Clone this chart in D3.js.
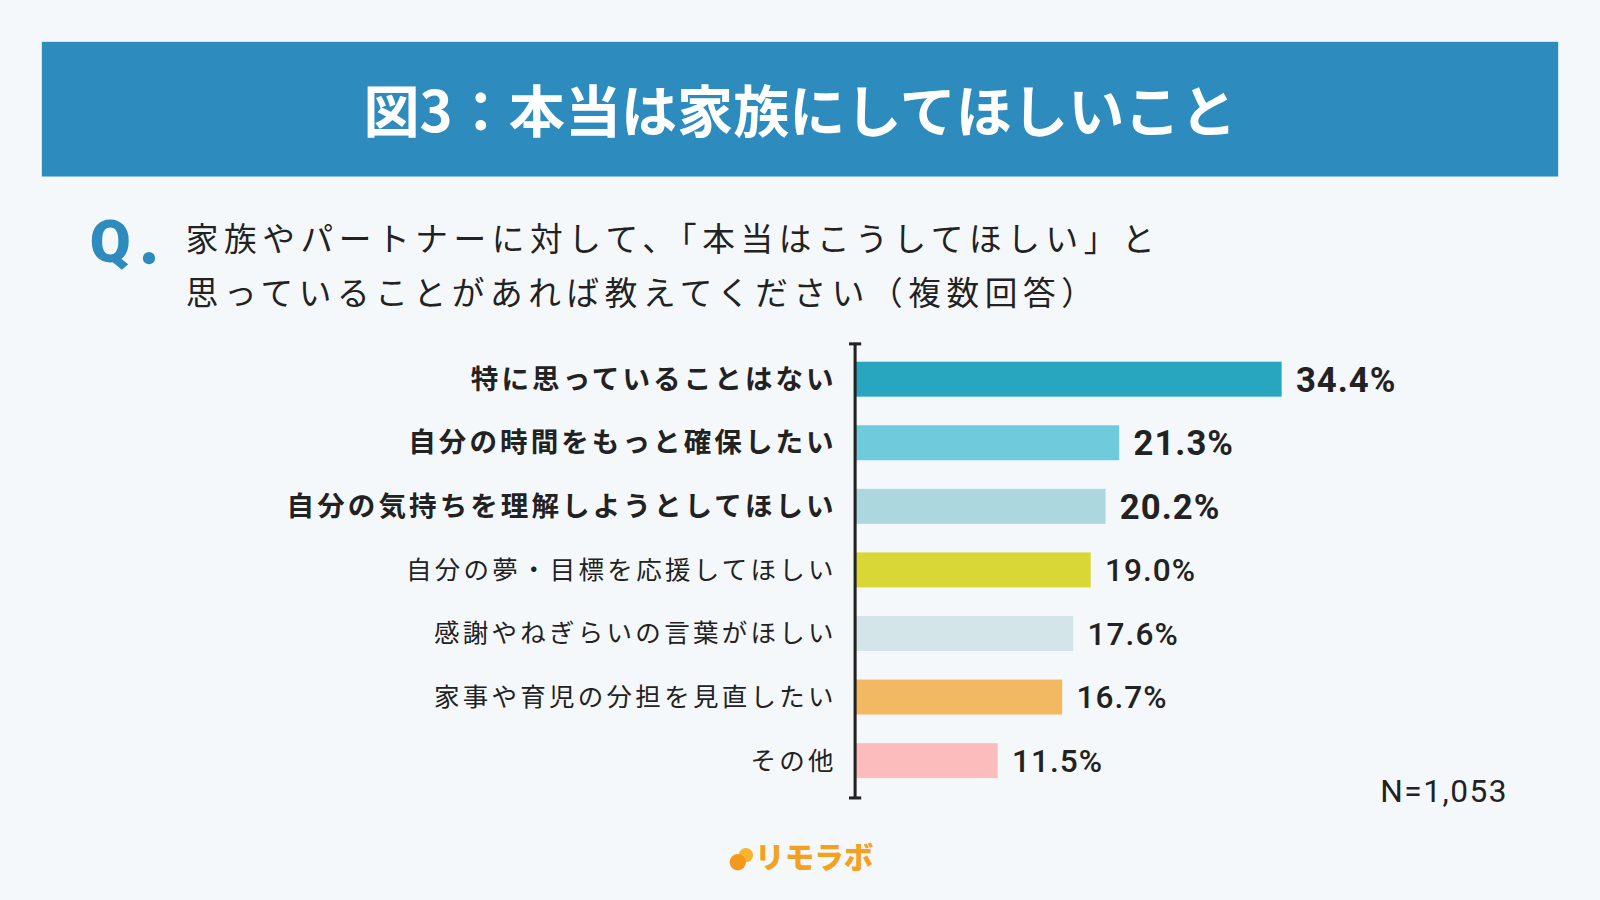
<!DOCTYPE html>
<html><head><meta charset="utf-8">
<script src="https://cdn.jsdelivr.net/npm/d3@7"></script>
<style>body{margin:0;background:#f5f8fb;} svg{display:block;font-family:"Noto Sans CJK JP",sans-serif;}</style>
</head><body><div id="chart"></div>
<script>
const categories = ["特に思っていることはない","自分の時間をもっと確保したい","自分の気持ちを理解しようとしてほしい","自分の夢・目標を応援してほしい","感謝やねぎらいの言葉がほしい","家事や育児の分担を見直したい","その他"];
const values = [34.4, 21.3, 20.2, 19.0, 17.6, 16.7, 11.5];
const colors = ["#29a6bf","#6fcadb","#acd7de","#d8d736","#d4e5ea","#f3b862","#fdbcbc"];
const bold = [true, true, true, false, false, false, false];

const W = 1568, H = 882;
const svg = d3.select("#chart").append("svg")
  .attr("width", 1600).attr("height", 900)
  .attr("viewBox", [0, 0, W, H]);

svg.append("rect").attr("width", W).attr("height", H).attr("fill", "#f5f8fb");
svg.append("rect").attr("x", 41).attr("y", 41).attr("width", 1486).attr("height", 132).attr("fill", "#2e8bbd");
svg.append("text").attr("x", 784).attr("y", 129).attr("text-anchor", "middle")
  .attr("fill", "#fff").attr("font-size", 55).attr("font-weight", 700)
  .text("図3：本当は家族にしてほしいこと");

svg.append("text").attr("x", 88).attr("y", 257).attr("fill", "#2e8bbd")
  .attr("font-size", 58).attr("font-weight", 900).attr("font-family", "Roboto, sans-serif").text("Q");
svg.append("circle").attr("cx", 146).attr("cy", 253).attr("r", 6).attr("fill", "#2e8bbd");
const q = svg.append("text").attr("fill", "#222").attr("font-size", 32).attr("letter-spacing", 5.5);
q.append("tspan").attr("x", 182).attr("y", 246).text("家族やパートナーに対して、「本当はこうしてほしい」と");
q.append("tspan").attr("x", 182).attr("y", 299).text("思っていることがあれば教えてください（複数回答）");

const x0 = 838;
const x = d3.scaleLinear().domain([0, 34.4]).range([x0, 1256]);
const y = d3.scaleBand().domain(categories).range([342, 775]).paddingInner(0.45).paddingOuter(0.2);

svg.selectAll(".bar").data(categories).enter().append("rect")
  .attr("x", x0).attr("y", d => y(d))
  .attr("width", (d, i) => x(values[i]) - x0).attr("height", y.bandwidth())
  .attr("fill", (d, i) => colors[i]);

svg.selectAll(".lab").data(categories).enter().append("text")
  .attr("x", 820).attr("y", d => y(d) + y.bandwidth() / 2)
  .attr("dy", "0.35em").attr("text-anchor", "end")
  .attr("font-size", (d, i) => bold[i] ? 27 : 25)
  .attr("font-weight", (d, i) => bold[i] ? 700 : 400)
  .attr("letter-spacing", (d, i) => bold[i] ? 3 : 3.2)
  .attr("fill", "#222").text(d => d);

svg.selectAll(".val").data(categories).enter().append("text")
  .attr("x", (d, i) => x(values[i]) + 14).attr("y", d => y(d) + y.bandwidth() / 2)
  .attr("dy", "0.36em")
  .attr("font-size", (d, i) => bold[i] ? 34 : 31)
  .attr("font-weight", (d, i) => bold[i] ? 700 : 500)
  .attr("letter-spacing", 1)
  .attr("font-family", "Roboto, sans-serif")
  .attr("fill", "#222").text((d, i) => values[i].toFixed(1) + "%");

svg.append("line").attr("x1", x0).attr("x2", x0).attr("y1", 336).attr("y2", 783).attr("stroke", "#222").attr("stroke-width", 3);
svg.append("line").attr("x1", x0 - 6).attr("x2", x0 + 6).attr("y1", 337).attr("y2", 337).attr("stroke", "#222").attr("stroke-width", 3);
svg.append("line").attr("x1", x0 - 6).attr("x2", x0 + 6).attr("y1", 782).attr("y2", 782).attr("stroke", "#222").attr("stroke-width", 3);

svg.append("text").attr("x", 1478).attr("y", 786).attr("text-anchor", "end")
  .attr("font-size", 31).attr("letter-spacing", 1.5).attr("font-family", "Roboto, sans-serif").attr("fill", "#222").text("N=1,053");

svg.append("circle").attr("cx", 731).attr("cy", 838).attr("r", 7).attr("fill", "#f7b42c");
svg.append("circle").attr("cx", 723).attr("cy", 845).attr("r", 8).attr("fill", "#f39a1c");
svg.append("text").attr("x", 740).attr("y", 851).attr("font-size", 29).attr("font-weight", 900)
  .attr("fill", "#f3a21f").text("リモラボ");
</script></body></html>
